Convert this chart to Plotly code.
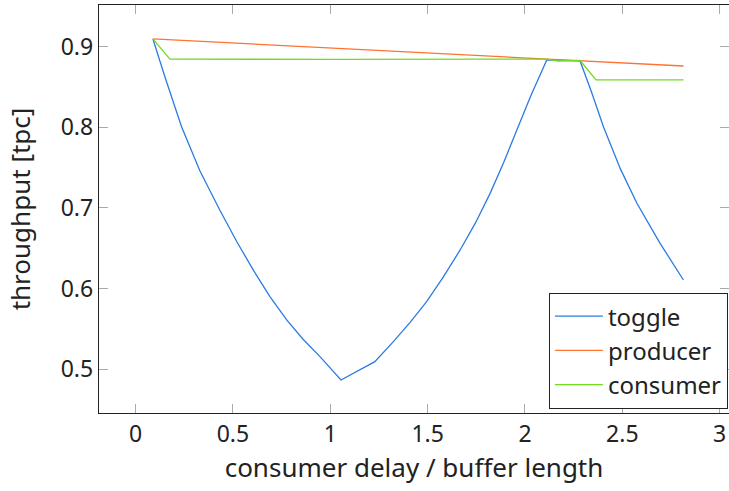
import plotly.graph_objects as go

toggle_x = [0.089, 0.15, 0.236, 0.33, 0.433, 0.52, 0.604, 0.69, 0.776, 0.86, 0.947, 1.055,
            1.229, 1.324, 1.41, 1.495, 1.58, 1.667, 1.745, 1.821, 1.89, 1.958, 2.03, 2.112,
            2.2, 2.283, 2.34, 2.403, 2.489, 2.575, 2.694, 2.814]
toggle_y = [0.9096, 0.863, 0.8007, 0.746, 0.697, 0.658, 0.623, 0.590, 0.561, 0.537, 0.5154, 0.4865,
            0.5092, 0.534, 0.558, 0.5836, 0.614, 0.6478, 0.681, 0.718, 0.756, 0.7967, 0.839, 0.8835,
            0.8828, 0.8823, 0.845, 0.8007, 0.749, 0.7057, 0.656, 0.6105]

producer_x = [0.089, 2.112, 2.283, 2.814]
producer_y = [0.9096, 0.8848, 0.8828, 0.876]

consumer_x = [0.089, 0.176, 1.0, 2.112, 2.17, 2.24, 2.283, 2.365, 2.814]
consumer_y = [0.9096, 0.8845, 0.8843, 0.8845, 0.8822, 0.8820, 0.8828, 0.8587, 0.8587]

FONT = "Noto Sans"

fig = go.Figure()
fig.add_trace(go.Scatter(x=toggle_x, y=toggle_y, mode="lines", name="toggle",
                         line=dict(color="#2b7be3", width=1.3)))
fig.add_trace(go.Scatter(x=producer_x, y=producer_y, mode="lines", name="producer",
                         line=dict(color="#ff7330", width=1.3)))
fig.add_trace(go.Scatter(x=consumer_x, y=consumer_y, mode="lines", name="consumer",
                         line=dict(color="#72dc1e", width=1.3)))

fig.update_layout(
    width=729, height=491,
    margin=dict(l=99, r=0, t=5, b=78),
    paper_bgcolor="white", plot_bgcolor="white",
    font=dict(family=FONT, size=23, color="#222"),
    showlegend=True,
    legend=dict(x=0.998, y=0.01, xanchor="right", yanchor="bottom",
                bordercolor="#222", borderwidth=1.2, bgcolor="white",
                itemwidth=48,
                font=dict(family=FONT, size=24, color="#222"), tracegroupgap=0),
)
fig.update_xaxes(range=[-0.188, 3.048], tickvals=[0, 0.5, 1, 1.5, 2, 2.5, 3],
                 ticktext=["0", "0.5", "1", "1.5", "2", "2.5", "3"],
                 showgrid=False, zeroline=False, showline=True, linecolor="#222", linewidth=1.4,
                 mirror="all", ticks="inside", ticklen=9, tickcolor="#aaa", tickwidth=1,
                 title=dict(text="consumer delay / buffer length", standoff=11,
                            font=dict(family=FONT, size=26, color="#222")),
                 tickfont=dict(family=FONT, size=23, color="#222"))
fig.update_yaxes(range=[0.4455, 0.9517], tickvals=[0.5, 0.6, 0.7, 0.8, 0.9],
                 ticktext=["0.5", "0.6", "0.7", "0.8", "0.9"],
                 showgrid=False, zeroline=False, showline=True, linecolor="#222", linewidth=1.4,
                 mirror="all", ticks="inside", ticklen=9, tickcolor="#aaa", tickwidth=1,
                 title=dict(text="throughput [tpc]", standoff=22,
                            font=dict(family=FONT, size=26, color="#222")),
                 tickfont=dict(family=FONT, size=23, color="#222"))

fig.write_html("out.html")
